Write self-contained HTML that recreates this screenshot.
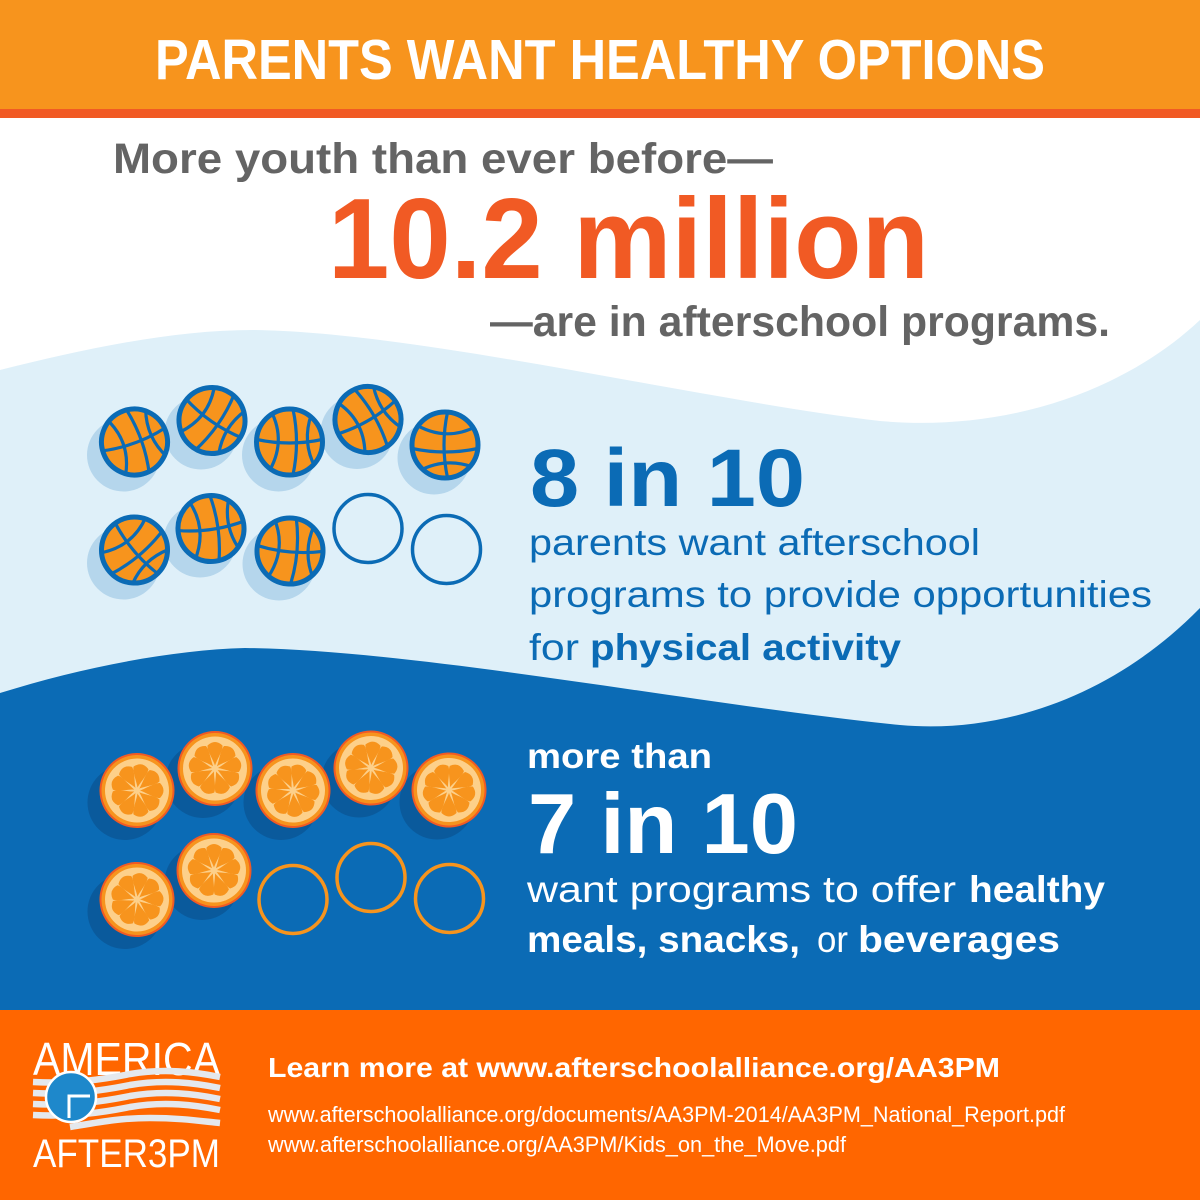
<!DOCTYPE html>
<html><head><meta charset="utf-8"><style>
html,body{margin:0;padding:0;background:#fff;}
svg{display:block;}
text{font-family:"Liberation Sans",Arial,sans-serif;}
</style></head><body>
<svg width="1200" height="1200" viewBox="0 0 1200 1200" xmlns="http://www.w3.org/2000/svg">
<defs>
  <clipPath id="bc"><circle r="33"/></clipPath>
  <g id="ball">
    <circle r="33" fill="#F7941D"/>
    <g clip-path="url(#bc)" fill="none" stroke="#0B6BB5" stroke-width="3.2">
      <path d="M-35,-3 Q0,5 35,-3"/>
      <path d="M3,-35 Q11,0 3,35"/>
      <path d="M-19,-32 Q-2,0 -22,32"/>
      <path d="M22,-28 Q12,0 26,26"/>
    </g>
    <circle r="33" fill="none" stroke="#0B6BB5" stroke-width="5"/>
  </g>
  <g id="orng">
    <circle r="37.5" fill="#F15A24"/>
    <circle r="35.5" fill="#F7941D"/>
    <circle r="32" fill="#FDD08A"/>
    <g fill="#F7941D">
      <path d="M0,-3 C-2,-9 -8,-18 -7.5,-23 Q0,-30 7.5,-23 C8,-18 2,-9 0,-3 Z" transform="rotate(0)"/>
      <path d="M0,-3 C-2,-9 -8,-18 -7.5,-23 Q0,-30 7.5,-23 C8,-18 2,-9 0,-3 Z" transform="rotate(40)"/>
      <path d="M0,-3 C-2,-9 -8,-18 -7.5,-23 Q0,-30 7.5,-23 C8,-18 2,-9 0,-3 Z" transform="rotate(80)"/>
      <path d="M0,-3 C-2,-9 -8,-18 -7.5,-23 Q0,-30 7.5,-23 C8,-18 2,-9 0,-3 Z" transform="rotate(120)"/>
      <path d="M0,-3 C-2,-9 -8,-18 -7.5,-23 Q0,-30 7.5,-23 C8,-18 2,-9 0,-3 Z" transform="rotate(160)"/>
      <path d="M0,-3 C-2,-9 -8,-18 -7.5,-23 Q0,-30 7.5,-23 C8,-18 2,-9 0,-3 Z" transform="rotate(200)"/>
      <path d="M0,-3 C-2,-9 -8,-18 -7.5,-23 Q0,-30 7.5,-23 C8,-18 2,-9 0,-3 Z" transform="rotate(240)"/>
      <path d="M0,-3 C-2,-9 -8,-18 -7.5,-23 Q0,-30 7.5,-23 C8,-18 2,-9 0,-3 Z" transform="rotate(280)"/>
      <path d="M0,-3 C-2,-9 -8,-18 -7.5,-23 Q0,-30 7.5,-23 C8,-18 2,-9 0,-3 Z" transform="rotate(320)"/>
    </g>
  </g>
</defs>

<!-- backgrounds -->
<rect x="0" y="0" width="1200" height="1200" fill="#ffffff"/>
<rect x="0" y="0" width="1200" height="109" fill="#F7941D"/>
<rect x="0" y="109" width="1200" height="9" fill="#F15A24"/>

<path d="M0,370 C80,350 170,330 253,330 C420,332 700,400 880,421 C1000,432 1120,395 1200,320 L1200,1010 L0,1010 Z" fill="#DFF0F9"/>
<path d="M0,693 C80,668 170,650 245,648 C420,650 700,705 900,725 C1010,735 1120,690 1200,608 L1200,1010 L0,1010 Z" fill="#0B6BB5"/>
<rect x="0" y="1010" width="1200" height="190" fill="#FF6600"/>

<!-- header text -->
<text x="155" y="79" font-size="57" font-weight="bold" fill="#ffffff" textLength="890" lengthAdjust="spacingAndGlyphs">PARENTS WANT HEALTHY OPTIONS</text>

<text x="113" y="173" font-size="43" font-weight="bold" fill="#646464" textLength="660" lengthAdjust="spacingAndGlyphs">More youth than ever before—</text>
<text x="328" y="278" font-size="114" font-weight="bold" fill="#F15A24" textLength="601" lengthAdjust="spacingAndGlyphs">10.2 million</text>
<text x="490" y="336" font-size="43" font-weight="bold" fill="#646464" textLength="620" lengthAdjust="spacingAndGlyphs">—are in afterschool programs.</text>

<!-- basketball shadows -->
<g fill="#B5D6EC">
  <circle cx="123.5" cy="455" r="36.5"/>
  <circle cx="201" cy="433" r="36.5"/>
  <circle cx="278.5" cy="455" r="36.5"/>
  <circle cx="357" cy="432.5" r="36.5"/>
  <circle cx="434" cy="458" r="36.5"/>
  <circle cx="123.5" cy="563" r="36.5"/>
  <circle cx="200" cy="541" r="36.5"/>
  <circle cx="279" cy="564" r="36.5"/>
</g>
<use href="#ball" transform="translate(134.5,442) rotate(-20)"/>
<use href="#ball" transform="translate(212,420.5) rotate(35)"/>
<use href="#ball" transform="translate(289.5,442) rotate(0)"/>
<use href="#ball" transform="translate(368,419.5) rotate(-30)"/>
<use href="#ball" transform="translate(445,445) rotate(90)"/>
<use href="#ball" transform="translate(134.5,550) rotate(50)"/>
<use href="#ball" transform="translate(211,528.5) rotate(-8)"/>
<use href="#ball" transform="translate(290,551) rotate(5)"/>
<circle cx="368" cy="528.5" r="34" fill="none" stroke="#0B6BB5" stroke-width="3.5"/>
<circle cx="446.5" cy="549.5" r="34" fill="none" stroke="#0B6BB5" stroke-width="3.5"/>

<!-- 8 in 10 -->
<text x="530" y="506" font-size="82" font-weight="bold" fill="#0B6BB5" textLength="275" lengthAdjust="spacingAndGlyphs">8 in 10</text>
<text x="529" y="555" font-size="37" fill="#0B6BB5" textLength="451" lengthAdjust="spacingAndGlyphs">parents want afterschool</text>
<text x="529" y="607" font-size="37" fill="#0B6BB5" textLength="623" lengthAdjust="spacingAndGlyphs">programs to provide opportunities</text>
<text x="529" y="660" font-size="37" fill="#0B6BB5" textLength="50" lengthAdjust="spacingAndGlyphs">for</text>
<text x="590" y="660" font-size="37" font-weight="bold" fill="#0B6BB5" textLength="311" lengthAdjust="spacingAndGlyphs">physical activity</text>

<!-- orange shadows -->
<g fill="#0A5A9C">
  <circle cx="125" cy="802.5" r="37.5"/>
  <circle cx="203" cy="780.5" r="37.5"/>
  <circle cx="281" cy="802.5" r="37.5"/>
  <circle cx="359" cy="780" r="37.5"/>
  <circle cx="437" cy="802" r="37.5"/>
  <circle cx="125" cy="911.5" r="37.5"/>
  <circle cx="202" cy="882.5" r="37.5"/>
</g>
<use href="#orng" transform="translate(137,790.5) rotate(10)"/>
<use href="#orng" transform="translate(215,768.5) rotate(0)"/>
<use href="#orng" transform="translate(293,790.5) rotate(15)"/>
<use href="#orng" transform="translate(371,768) rotate(5)"/>
<use href="#orng" transform="translate(449,790) rotate(20)"/>
<use href="#orng" transform="translate(137,899.5) rotate(8)"/>
<use href="#orng" transform="translate(214,870.5) rotate(0)"/>
<circle cx="293" cy="899.5" r="34" fill="none" stroke="#F7941D" stroke-width="3.5"/>
<circle cx="371" cy="877.5" r="34" fill="none" stroke="#F7941D" stroke-width="3.5"/>
<circle cx="449.5" cy="898.5" r="34" fill="none" stroke="#F7941D" stroke-width="3.5"/>

<!-- 7 in 10 -->
<text x="527" y="768" font-size="35" font-weight="bold" fill="#ffffff" textLength="185" lengthAdjust="spacingAndGlyphs">more than</text>
<text x="528" y="853" font-size="85" font-weight="bold" fill="#ffffff" textLength="270" lengthAdjust="spacingAndGlyphs">7 in 10</text>
<text x="527" y="902" font-size="37" fill="#ffffff" textLength="429" lengthAdjust="spacingAndGlyphs">want programs to offer</text>
<text x="969" y="902" font-size="37" font-weight="bold" fill="#ffffff" textLength="136" lengthAdjust="spacingAndGlyphs">healthy</text>
<text x="527" y="952" font-size="37" font-weight="bold" fill="#ffffff" textLength="273" lengthAdjust="spacingAndGlyphs">meals, snacks,</text>
<text x="817" y="952" font-size="37" fill="#ffffff" textLength="31" lengthAdjust="spacingAndGlyphs">or</text>
<text x="858" y="952" font-size="37" font-weight="bold" fill="#ffffff" textLength="202" lengthAdjust="spacingAndGlyphs">beverages</text>

<!-- footer -->
<text x="268" y="1077" font-size="28" font-weight="bold" fill="#ffffff" textLength="732" lengthAdjust="spacingAndGlyphs">Learn more at www.afterschoolalliance.org/AA3PM</text>
<text x="268" y="1122" font-size="22" fill="#ffffff" textLength="797" lengthAdjust="spacingAndGlyphs">www.afterschoolalliance.org/documents/AA3PM-2014/AA3PM_National_Report.pdf</text>
<text x="268" y="1152" font-size="22" fill="#ffffff" textLength="578" lengthAdjust="spacingAndGlyphs">www.afterschoolalliance.org/AA3PM/Kids_on_the_Move.pdf</text>

<!-- logo -->
<text x="33" y="1075" font-size="46" fill="#ffffff" textLength="187" lengthAdjust="spacingAndGlyphs">AMERICA</text>
<g fill="none" stroke="#E4E8ED" stroke-width="6.5">
  <path d="M33,1082 C70,1084 100,1080 130,1074 C165,1068 195,1072 220,1077"/>
  <path d="M33,1093 C70,1095 100,1091 130,1085 C165,1079 195,1083 220,1088"/>
  <path d="M33,1104 C70,1106 100,1102 130,1096 C165,1090 195,1094 220,1099"/>
  <path d="M33,1115 C70,1117 100,1113 130,1107 C165,1101 195,1105 220,1110"/>
  <path d="M70,1127 C100,1122 120,1118 150,1118 C180,1118 200,1121 220,1123"/>
</g>
<circle cx="71" cy="1097" r="25" fill="#1E88CB" stroke="#ffffff" stroke-width="2.5"/>
<path d="M69,1118 L69,1096 L90,1096" fill="none" stroke="#ffffff" stroke-width="3"/>
<text x="33" y="1167" font-size="40" fill="#ffffff" textLength="187" lengthAdjust="spacingAndGlyphs">AFTER3PM</text>
</svg>
</body></html>
